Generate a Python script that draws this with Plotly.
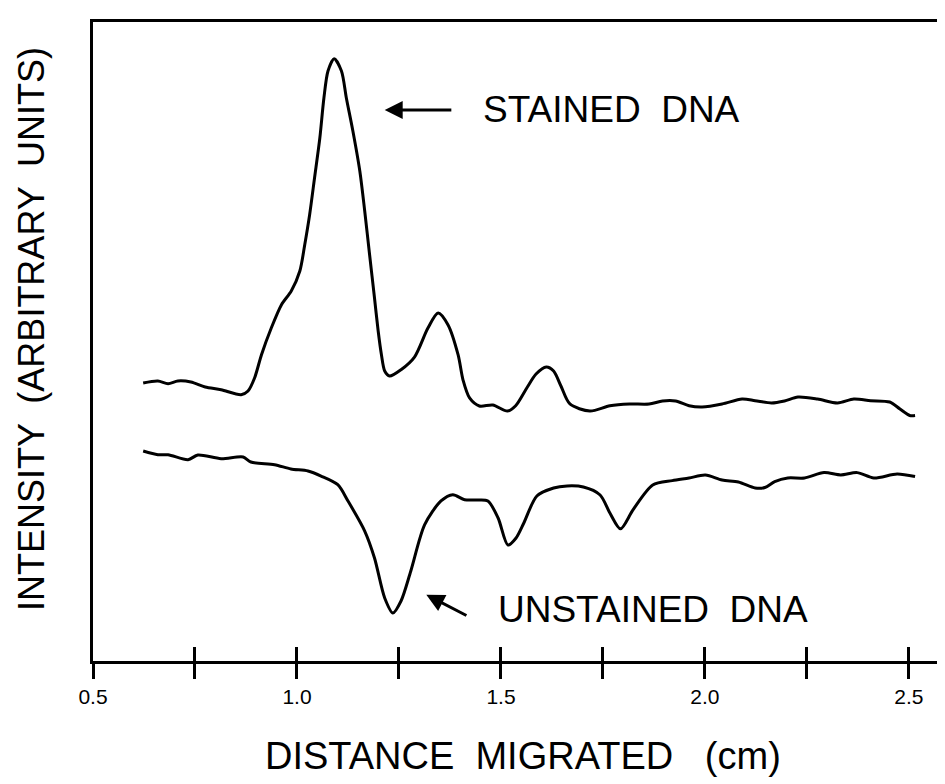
import plotly.graph_objects as go

# ---- data (distance in cm, intensity in arbitrary units) ----
stained_x = [0.623, 0.659, 0.684, 0.708, 0.740, 0.775, 0.814, 0.863, 0.880, 0.896,
             0.913, 0.937, 0.962, 0.986, 1.007, 1.019, 1.031, 1.043, 1.056, 1.066,
             1.076, 1.091, 1.109, 1.121, 1.137, 1.154, 1.166, 1.178, 1.190, 1.199,
             1.207, 1.215, 1.227, 1.255, 1.288, 1.321, 1.346, 1.370, 1.395, 1.407,
             1.423, 1.447, 1.480, 1.516, 1.536, 1.564, 1.586, 1.611, 1.629, 1.647,
             1.669, 1.718, 1.767, 1.815, 1.863, 1.896, 1.928, 1.961, 1.993, 2.042,
             2.091, 2.123, 2.163, 2.195, 2.228, 2.276, 2.325, 2.365, 2.406, 2.453,
             2.478, 2.502, 2.515]
stained_y = [43.51, 43.82, 43.40, 43.82, 43.66, 42.88, 42.46, 41.67, 42.25, 44.29,
             47.93, 52.11, 55.76, 57.90, 61.03, 65.15, 69.84, 75.59, 81.85, 88.11,
             92.33, 94.26, 92.33, 88.11, 82.94, 76.68, 70.42, 63.58, 56.81, 51.64,
             47.93, 45.38, 44.60, 45.59, 47.57, 52.11, 54.46, 52.63, 47.89, 43.97,
             41.16, 39.91, 40.06, 39.12, 39.95, 42.80, 44.91, 46.01, 45.38, 43.04,
             40.22, 39.12, 39.95, 40.22, 40.22, 40.69, 40.69, 39.95, 39.75, 40.22,
             41.00, 40.74, 40.38, 40.69, 41.31, 41.00, 40.38, 41.00, 40.74, 40.53,
             39.44, 38.42, 38.42]

unstained_x = [0.623, 0.659, 0.684, 0.733, 0.757, 0.814, 0.868, 0.887, 0.945, 0.985,
               1.027, 1.059, 1.100, 1.125, 1.166, 1.190, 1.215, 1.235, 1.255, 1.279,
               1.313, 1.353, 1.382, 1.411, 1.444, 1.468, 1.493, 1.517, 1.537, 1.556,
               1.588, 1.629, 1.662, 1.702, 1.743, 1.767, 1.793, 1.824, 1.872, 1.920,
               1.961, 2.001, 2.042, 2.082, 2.123, 2.147, 2.171, 2.203, 2.244, 2.292,
               2.333, 2.373, 2.414, 2.471, 2.515]
unstained_y = [32.86, 32.28, 32.28, 31.50, 32.24, 31.66, 31.92, 31.14, 30.72, 30.05,
               29.73, 28.95, 27.59, 25.04, 20.34, 16.12, 9.86, 7.51, 9.39, 14.08,
               21.33, 25.04, 26.03, 25.24, 25.20, 25.04, 22.38, 18.15, 19.25, 21.60,
               25.82, 27.07, 27.39, 27.23, 25.98, 23.16, 20.69, 23.69, 27.54, 28.23,
               28.64, 29.11, 28.33, 28.01, 27.07, 27.15, 28.08, 28.64, 28.64, 29.48,
               29.11, 29.48, 28.64, 29.26, 28.86]

tick_vals = [0.5, 0.75, 1.0, 1.25, 1.5, 1.75, 2.0, 2.25, 2.5]
tick_text = ["0.5", "", "1.0", "", "1.5", "", "2.0", "", "2.5"]

x_range = [0.5, 2.608]
y_range = [0, 100]

FONT = "Liberation Sans, Arial, Helvetica, sans-serif"

fig = go.Figure()
fig.add_trace(go.Scatter(x=stained_x, y=stained_y, mode="lines",
                         line=dict(color="black", width=3, shape="spline", smoothing=0.8),
                         name="Stained DNA", showlegend=False, hoverinfo="skip"))
fig.add_trace(go.Scatter(x=unstained_x, y=unstained_y, mode="lines", xaxis="x2",
                         line=dict(color="black", width=3, shape="spline", smoothing=0.8),
                         name="Unstained DNA", showlegend=False, hoverinfo="skip"))

fig.update_layout(
    width=945, height=784,
    margin=dict(l=85, r=0, t=14, b=131),
    paper_bgcolor="white", plot_bgcolor="white",
    font=dict(family=FONT, color="black"),
    xaxis=dict(range=x_range, showgrid=False, zeroline=False,
               showline=True, linecolor="black", linewidth=3, mirror=True,
               ticks="outside", ticklen=15, tickwidth=2.5, tickcolor="black",
               tickvals=tick_vals, ticktext=tick_text,
               tickfont=dict(size=21, family=FONT, color="black")),
    xaxis2=dict(range=x_range, overlaying="x", anchor="y", side="bottom",
                showgrid=False, zeroline=False, showline=False,
                ticks="inside", ticklen=14, tickwidth=2.5, tickcolor="black",
                tickvals=tick_vals, showticklabels=False),
    yaxis=dict(range=y_range, showgrid=False, zeroline=False,
               showline=True, linecolor="black", linewidth=3,
               ticks="", showticklabels=False),
)

# axis titles
fig.add_annotation(x=0.5, y=-0.1487, xref="paper", yref="paper",
                   text="DISTANCE  MIGRATED   (cm)", showarrow=False,
                   xanchor="center", yanchor="middle",
                   font=dict(size=38, family=FONT, color="black"))
fig.add_annotation(x=-0.0709, y=0.5196, xref="paper", yref="paper",
                   text="INTENSITY  (ARBITRARY  UNITS)", showarrow=False,
                   textangle=-90, xanchor="center", yanchor="middle",
                   font=dict(size=36, family=FONT, color="black"))

# labels with arrows
fig.add_annotation(x=1.451, y=86.23, xref="x", yref="y", text="STAINED  DNA",
                   showarrow=False, xanchor="left", yanchor="middle",
                   font=dict(size=37, family=FONT, color="black"))
fig.add_annotation(x=1.215, y=86.23, ax=1.382, ay=86.23, xref="x", yref="y",
                   axref="x", ayref="y", text="", showarrow=True,
                   arrowhead=2, arrowsize=1.2, arrowwidth=3, arrowcolor="black")

fig.add_annotation(x=1.488, y=8.03, xref="x", yref="y", text="UNSTAINED  DNA",
                   showarrow=False, xanchor="left", yanchor="middle",
                   font=dict(size=37, family=FONT, color="black"))
fig.add_annotation(x=1.317, y=10.38, ax=1.419, ay=7.0, xref="x", yref="y",
                   axref="x", ayref="y", text="", showarrow=True,
                   arrowhead=2, arrowsize=1.2, arrowwidth=3, arrowcolor="black")

fig.write_html("out.html")
